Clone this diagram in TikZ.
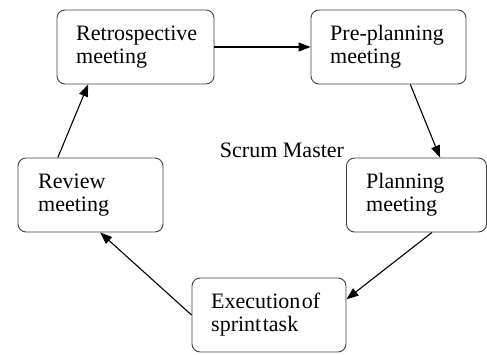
\documentclass[tikz,border=0pt]{standalone}
\usepackage{fontspec}
\setmainfont{Liberation Serif}
\usetikzlibrary{arrows.meta,calc}
\begin{document}
\begin{tikzpicture}[x=1pt,y=-1pt,
  box/.style={draw=black!75,line width=0.9pt,rounded corners=8pt,inner sep=0pt},
  lbl/.style={anchor=base west,inner sep=0pt,align=left,font=\fontsize{22}{23.5}\selectfont},
  conn/.style={line width=1.1pt,-{Triangle[length=12pt,width=9pt]}}]
\useasboundingbox (0,0) rectangle (487,354);
\node[box,minimum width=157pt,minimum height=74pt] (retro) at (135.5,47) {};
\node[box,minimum width=155pt,minimum height=74pt] (pre) at (388.5,47) {};
\node[box,minimum width=145pt,minimum height=74pt] (review) at (90.5,195) {};
\node[box,minimum width=140pt,minimum height=74pt] (plan) at (416.5,195) {};
\node[box,minimum width=154pt,minimum height=74pt] (exec) at (269,315) {};
\node[lbl] (t1) at (76,63.5) {Retrospective\\meeting};
\node[lbl] (t2) at (330,63.5) {Pre-planning\\meeting};
\node[lbl] (t3) at (38,211.5) {Review\\meeting};
\node[lbl] (t4) at (366,211.5) {Planning\\meeting};
\node[lbl] (t5) at (211,331.5) {Execution\hspace{1.5pt}of\\sprint\hspace{1.5pt}task};
\node[anchor=base,inner sep=0pt,font=\fontsize{22}{23.5}\selectfont] (sm) at (282,157) {Scrum Master};
\draw[conn] (retro.east) -- (pre.west);
\draw[conn] ($(pre.south west)!0.64!(pre.south east)$) -- ($(plan.north west)!0.667!(plan.north east)$);
\draw[conn] ($(plan.south west)!0.61!(plan.south east)$) -- ($(exec.north east)!0.29!(exec.south east)$);
\draw[conn] (exec.west) -- ($(review.south west)!0.566!(review.south east)$);
\draw[conn] ($(review.north west)!0.276!(review.north east)$) -- ($(retro.south west)!0.2!(retro.south east)$);
\end{tikzpicture}
\end{document}
